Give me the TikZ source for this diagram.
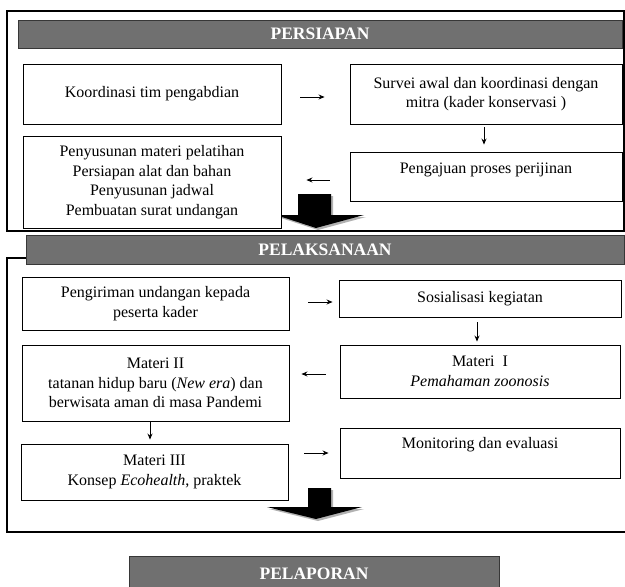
\documentclass[tikz,border=0pt]{standalone}
\usepackage{fontspec}
\setmainfont{Liberation Serif}
\usetikzlibrary{calc,arrows.meta}
\definecolor{bandgray}{RGB}{112,112,112}
\definecolor{bandedge}{RGB}{55,55,55}
\begin{document}
\begin{tikzpicture}[x=1pt,y=-1pt,
  every node/.style={font=\fontsize{16}{19.5}\selectfont},
  box/.style={draw, line width=0.9pt, fill=white, align=center, inner sep=0pt},
  band/.style={draw=bandedge, line width=1pt, fill=bandgray, text=white, inner sep=0pt,
    font=\fontsize{17.5}{20}\selectfont\bfseries},
  frame/.style={draw, line width=1.3pt},
  arr/.style={-{Stealth[length=6pt,width=5pt]}, line width=0.8pt},
  bigarrow/.style={fill=black},
  bigshadow/.style={fill=black!30}
]
\useasboundingbox (0,0) rectangle (625,587);

% ---------- PERSIAPAN ----------
\draw[frame] (7,11) rectangle (624,231);
\node[band, minimum width=604, minimum height=28] (t1) at (320,34) {PERSIAPAN};

\fill[bigshadow] (300,196) -- (333,196) -- (333,217) -- (366,217) -- (318,230) -- (278,217) -- (300,217) -- cycle;
\fill[bigarrow] (298,194) -- (331,194) -- (331,215) -- (364,215) -- (316,228) -- (276,215) -- (298,215) -- cycle;

\node[box, minimum width=258, minimum height=60] (k1) at (152,94) {Koordinasi tim pengabdian};
\node[box, minimum width=272, minimum height=60] (k2) at (486,94) {Survei awal dan koordinasi dengan\\mitra (kader konservasi )};
\node[box, minimum width=272, minimum height=49,
  label={[anchor=center, yshift=-18pt]north:Pengajuan proses perijinan}] (k3) at (486,176.5) {};
\node[box, minimum width=258, minimum height=92] (k4) at (152,182) {Penyusunan materi pelatihan\\Persiapan alat dan bahan\\Penyusunan jadwal\\Pembuatan surat undangan};

\coordinate (r1) at (0,97);
\coordinate (r2) at (0,180);
\draw[arr, shorten <=19pt, shorten >=25pt] (k1.east |- r1) -- (k2.west |- r1);
\draw[arr, shorten <=3pt, shorten >=7pt] ([xshift=-2pt]k2.south) -- ([xshift=-2pt]k3.north);
\draw[arr, shorten <=20pt, shorten >=25pt] (k3.west |- r2) -- (k4.east |- r2);

% ---------- PELAKSANAAN ----------
\draw[frame] (628,258) -- (7,258) -- (7,532) -- (628,532);
\node[band, minimum width=598, minimum height=29] (t2) at (325,249.5) {PELAKSANAAN};

\fill[bigshadow] (310,490) -- (333,490) -- (333,509) -- (364,509) -- (318,521) -- (269,509) -- (310,509) -- cycle;
\fill[bigarrow] (308,488) -- (331,488) -- (331,507) -- (362,507) -- (316,519) -- (267,507) -- (308,507) -- cycle;

\node[box, minimum width=267, minimum height=53] (p1) at (155.5,303.5) {Pengiriman undangan kepada\\peserta kader};
\node[box, minimum width=282, minimum height=37] (p2) at (480,298.5) {Sosialisasi kegiatan};
\node[box, minimum width=280, minimum height=53] (p3) at (480,371.5) {Materi\ \ I\\\textit{Pemahaman zoonosis}};
\node[box, minimum width=267, minimum height=76] (p4) at (155.5,383) {Materi II\\tatanan hidup baru (\textit{New era}) dan\\berwisata aman di masa Pandemi};
\node[box, minimum width=267, minimum height=56] (p5) at (154.5,472) {Materi III\\Konsep \textit{Ecohealth}, praktek};
\node[box, minimum width=280, minimum height=50,
  label={[anchor=center, yshift=-17pt]north:Monitoring dan evaluasi}] (p6) at (480,453) {};

\coordinate (r3) at (0,302);
\coordinate (r4) at (0,374);
\coordinate (r5) at (0,453);
\draw[arr, shorten <=19pt, shorten >=6pt] (p1.east |- r3) -- (p2.west |- r3);
\draw[arr, shorten <=5pt, shorten >=3pt] ([xshift=-3pt]p2.south) -- ([xshift=-3pt]p3.north);
\draw[arr, shorten <=14pt, shorten >=12pt] (p3.west |- r4) -- (p4.east |- r4);
\draw[arr, shorten <=0pt, shorten >=4pt] ([xshift=-5.5pt]p4.south) -- ([xshift=-4.5pt]p5.north);
\draw[arr, shorten <=16pt, shorten >=11pt] (p5.east |- r5) -- (p6.west |- r5);

% ---------- PELAPORAN ----------
\node[band, minimum width=370, minimum height=36] (t3) at (314,574) {PELAPORAN};
\end{tikzpicture}
\end{document}
